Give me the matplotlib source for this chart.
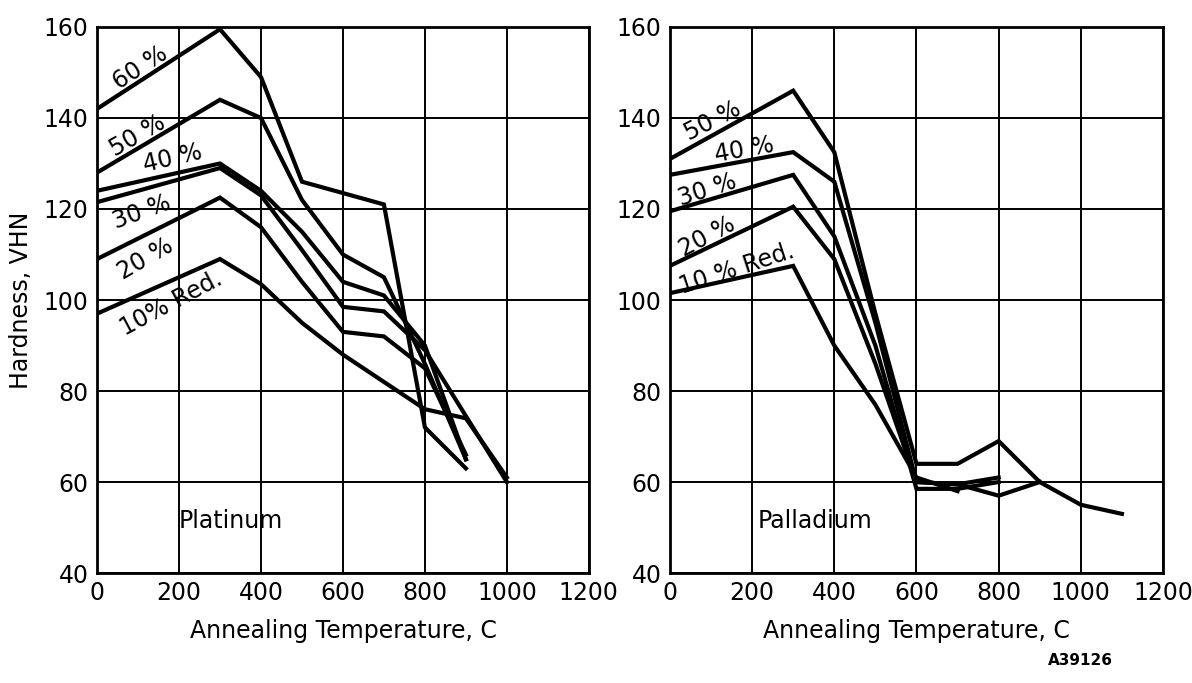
import numpy as np
import matplotlib.pyplot as plt

# Platinum (left panel), hardness VHN vs annealing temperature C
pt_temps = {
    "60": [0, 300, 400, 500, 600, 700, 800, 900],
    "50": [0, 300, 400, 500, 600, 700, 800, 900],
    "40": [0, 300, 400, 500, 600, 700, 800, 900],
    "30": [0, 300, 400, 500, 600, 700, 800, 1000],
    "20": [0, 300, 400, 500, 600, 700, 800, 900],
    "10": [0, 300, 400, 500, 600, 700, 800, 900, 1000],
}
pt_hard = {
    "60": [142, 159.5, 149, 126, 123.5, 121, 72, 63],
    "50": [128, 144, 140, 122, 110, 105, 86, 65],
    "40": [124, 130, 124, 115, 104, 101, 90, 65],
    "30": [121.5, 129, 123, 111, 98.5, 97.5, 89, 60],
    "20": [109, 122.5, 116, 104, 93, 92, 85, 66],
    "10": [97, 109, 103.5, 95, 88, 82, 76, 74, 61],
}

# Palladium (right panel)
pd_temps = {
    "50": [0, 300, 400, 500, 600, 700, 800, 900, 1000, 1100],
    "40": [0, 300, 400, 500, 600, 700, 800],
    "30": [0, 300, 400, 500, 600, 700, 800],
    "20": [0, 300, 400, 500, 600, 700, 800, 900],
    "10": [0, 300, 400, 500, 600, 700],
}
pd_hard = {
    "50": [131, 146, 132.5, 97, 64, 64, 69, 60, 55, 53],
    "40": [127.5, 132.5, 126, 95, 60, 59.5, 61],
    "30": [119.5, 127.5, 114, 90, 58.5, 58.5, 60],
    "20": [107.5, 120.5, 109, 86, 60, 59.5, 57, 60],
    "10": [101.5, 107.5, 90, 77, 61, 58],
}

xticks = [0, 200, 400, 600, 800, 1000, 1200]
yticks = [40, 60, 80, 100, 120, 140, 160]

# curve labels: text, T, VHN, rotation
pt_labels = [("60 %", 105, 151, 33), ("50 %", 100, 136, 30), ("40 %", 185, 131, 13),
             ("30 %", 110, 119.3, 20), ("20 %", 117, 109, 30), ("10% Red.", 180, 99.3, 28)]
pd_labels = [("50 %", 105, 139.3, 27), ("40 %", 180, 133, 10), ("30 %", 90, 124.2, 18),
             ("20 %", 90, 113.8, 28), ("10 % Red.", 163, 106.8, 18)]

plt.rcParams['font.family'] = ['DejaVu Sans']
fig = plt.figure(figsize=(11.92, 6.83), dpi=100)
ax1 = fig.add_axes([0.0814, 0.161, 0.4126, 0.7995])
ax2 = fig.add_axes([0.562, 0.161, 0.4137, 0.7995])


def setup(ax):
    ax.set_xlim(0, 1200)
    ax.set_ylim(40, 160)
    ax.set_xticks(xticks)
    ax.set_yticks(yticks)
    ax.set_xticklabels([str(t) for t in xticks], fontsize=17)
    ax.set_yticklabels([str(t) for t in yticks], fontsize=17)
    ax.tick_params(length=0, pad=6)
    ax.grid(True, color='black', lw=1.4)
    for s in ax.spines.values():
        s.set_linewidth(2)
    ax.set_xlabel("Annealing Temperature, C", fontsize=17, labelpad=10)


setup(ax1)
setup(ax2)

for k in pt_hard:
    ax1.plot(pt_temps[k], pt_hard[k], color='black', lw=3, solid_joinstyle='miter')
for k in pd_hard:
    ax2.plot(pd_temps[k], pd_hard[k], color='black', lw=3, solid_joinstyle='miter')

for txt, x, y, r in pt_labels:
    ax1.text(x, y, txt, fontsize=17, rotation=r, ha='center', va='center')
for txt, x, y, r in pd_labels:
    ax2.text(x, y, txt, fontsize=17, rotation=r, ha='center', va='center')

ax1.text(200, 51.5, "Platinum", fontsize=17, va='center')
ax2.text(214, 51.5, "Palladium", fontsize=17, va='center')

ax1.set_ylabel("Hardness, VHN", fontsize=17, labelpad=8)
fig.text(0.906, 0.027, "A39126", fontsize=11, fontweight='bold', ha='center')

fig.savefig("out.png", dpi=100)
